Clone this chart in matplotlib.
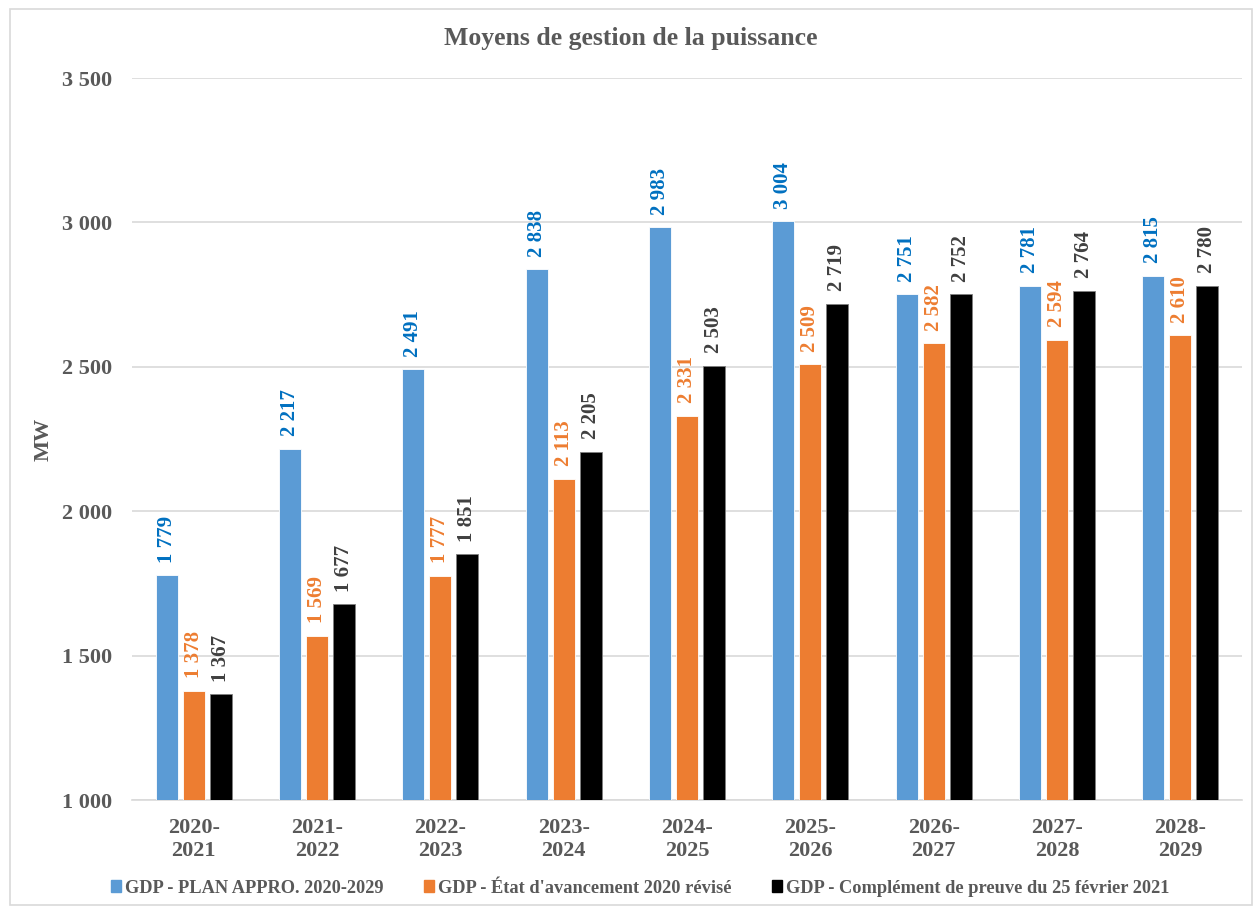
import matplotlib
matplotlib.use("Agg")

import matplotlib.pyplot as plt
import numpy as np
from matplotlib.patches import Patch, Rectangle

plt.rcParams.update({"font.family": ["Liberation Serif", "DejaVu Serif"], "font.weight": "bold"})

# --- data ---
periods = ["2020-\n2021", "2021-\n2022", "2022-\n2023", "2023-\n2024", "2024-\n2025",
           "2025-\n2026", "2026-\n2027", "2027-\n2028", "2028-\n2029"]
plan_appro = [1779, 2217, 2491, 2838, 2983, 3004, 2751, 2781, 2815]
etat_avancement = [1378, 1569, 1777, 2113, 2331, 2509, 2582, 2594, 2610]
complement_preuve = [1367, 1677, 1851, 2205, 2503, 2719, 2752, 2764, 2780]

series_names = ["GDP - PLAN APPRO. 2020-2029",
                "GDP - État d'avancement 2020 révisé",
                "GDP - Complément de preuve du 25 février 2021"]
bar_colors = ["#5B9BD5", "#ED7D31", "#000000"]
label_colors = ["#0070C0", "#ED7D31", "#404040"]
GREY = "#595959"

def fmt(v):
    return f"{v:,}".replace(",", " ")

fig = plt.figure(figsize=(12.58, 9.13), dpi=100)
ax = fig.add_axes([132 / 1258, 1 - 800 / 913, 1110 / 1258, 722 / 913])

# light outer frame like the Excel chart area
fig.patches.append(Rectangle((10 / 1258, 1 - 905 / 913), 1242 / 1258, 896 / 913,
                             transform=fig.transFigure, fill=False, ec="#D9D9D9", lw=1.2))

x = np.arange(len(periods))
w = 0.178
step = 0.219
all_series = [plan_appro, etat_avancement, complement_preuve]

for i, vals in enumerate(all_series):
    pos = x + (i - 1) * step
    ax.bar(pos, vals, w, color=bar_colors[i], ec="white" if i < 2 else "#7F7F7F",
           lw=0.6, label=series_names[i], zorder=3)
    for xp, v in zip(pos, vals):
        ax.annotate(fmt(v), (xp, v), xytext=(0, 9), textcoords="offset points",
                    ha="center", va="bottom", rotation=90, fontsize=15,
                    fontweight="bold", color=label_colors[i])

ax.set_xlim(-0.5, len(periods) - 0.5)
ax.set_ylim(1000, 3500)
ax.set_yticks(np.arange(1000, 3501, 500))
ax.set_yticklabels([fmt(t) for t in np.arange(1000, 3501, 500)])
ax.set_xticks(x)
ax.set_xticklabels(periods, linespacing=1.2)

ax.tick_params(axis="y", length=0, pad=14, labelsize=16, labelcolor=GREY)
ax.tick_params(axis="x", length=0, pad=13, labelsize=16, labelcolor=GREY)
for lab in ax.get_xticklabels() + ax.get_yticklabels():
    lab.set_fontweight("bold")

ax.grid(axis="y", color="#D9D9D9", lw=1.2, zorder=0)
for s in ["top", "right", "left"]:
    ax.spines[s].set_visible(False)
ax.spines["bottom"].set_color("#D9D9D9")
ax.spines["bottom"].set_linewidth(1.2)

ax.set_ylabel("MW", fontsize=16, fontweight="bold", color=GREY, labelpad=6)

fig.text(631 / 1258, 1 - 38 / 913, "Moyens de gestion de la puissance", ha="center", va="center",
         fontsize=18.5, fontweight="bold", color=GREY)

handles = [Patch(color=c) for c in bar_colors]
fig.legend(handles, series_names, loc="center", bbox_to_anchor=(640 / 1258, 1 - 888 / 913),
           ncol=3, frameon=False, handlelength=0.55, handleheight=0.55,
           handletextpad=0.22, columnspacing=2.2, labelcolor=GREY,
           prop={"weight": "bold", "size": 13.2})

fig.savefig("out.png", dpi=100)
